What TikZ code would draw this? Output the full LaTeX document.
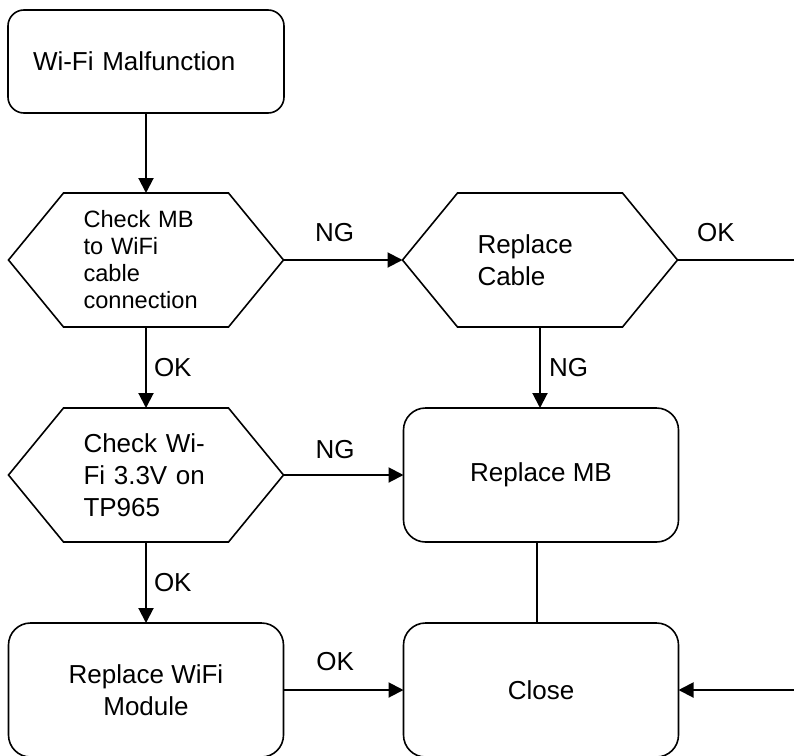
\documentclass[tikz,border=0pt]{standalone}
\usepackage{fontspec}
\setmainfont{Liberation Sans}
\usepackage{tikz}
\usetikzlibrary{arrows.meta}
\usetikzlibrary{positioning}

\newcommand{\bigtxt}{\fontsize{26}{32}\selectfont}
\newcommand{\smalltxt}{\fontsize{23.6}{27}\selectfont}
\newcommand{\hexframe}[1]{\draw[frame] (#1.west) -- ([xshift=55pt]#1.north west) -- ([xshift=-55pt]#1.north east) -- (#1.east) -- ([xshift=-55pt]#1.south east) -- ([xshift=55pt]#1.south west) -- cycle;}

\tikzset{
    frame/.style={line width=1.6pt},
    roundbox/.style={draw, frame, rounded corners=22pt, minimum width=275pt, minimum height=134pt, outer sep=0pt, font=\bigtxt, align=center},
    hexbox/.style={minimum width=275pt, minimum height=134pt, outer sep=0pt, text width=125pt, align=left, font=\bigtxt},
    flow/.style={line width=2pt, -{Triangle[length=15pt, width=15pt]}},
    lbl/.style={font=\bigtxt, inner sep=0pt}
}

\begin{document}
\begin{tikzpicture}[x=1pt, y=-1pt]
        \useasboundingbox (0,0) rectangle (794,755);
        \node[roundbox, rounded corners=16pt, minimum width=276pt, minimum height=103pt, text width=226pt, align=left] (malf) at (146,61.5) {Wi-Fi Malfunction};
        \node[hexbox, font=\smalltxt, below=80pt of malf] (chkcable) {Check MB\\to WiFi\\cable\\connection};
        \node[hexbox, below=81pt of chkcable] (chkvolt) {Check Wi-\\Fi 3.3V on\\TP965};
        \node[roundbox, below=81pt of chkvolt] (repwifi) {Replace WiFi\\Module};
        \node[hexbox, right=119pt of chkcable] (repcable) {Replace\\Cable};
        \node[roundbox, right=120pt of chkvolt] (repmb) {Replace MB};
        \node[roundbox, right=120pt of repwifi] (close) {Close};
        \hexframe{chkcable}
        \hexframe{chkvolt}
        \hexframe{repcable}
        \coordinate (okend) at (794,260);
        \coordinate (inclose) at (close.east -| okend);
        % connectors
        \draw[flow] (malf.south -| chkcable.north) -- (chkcable.north);
        \draw[flow] (chkcable.east) -- node[lbl, above=17pt, pos=.43] {NG} (repcable.west);
        \draw[frame] (repcable.east) -- node[lbl, above=17pt, pos=.33] {OK} (okend);
        \draw[flow] (chkcable.south) -- node[lbl, right=7pt] {OK} (chkvolt.north);
        \draw[flow] (repcable.south) -- node[lbl, right=8pt] {NG} (repcable.south |- repmb.north);
        \draw[flow] (chkvolt.east) -- node[lbl, above=15pt, pos=.43] {NG} (repmb.west);
        \draw[flow] (chkvolt.south) -- node[lbl, right=7pt] {OK} (repwifi.north);
        \draw[flow] (repwifi.east) -- node[lbl, above=18pt, pos=.43] {OK} (close.west);
        \draw[frame] (repmb.south -| 537,0) -- (close.north -| 537,0);
        \draw[flow] (inclose) -- (close.east);
\end{tikzpicture}
\end{document}
